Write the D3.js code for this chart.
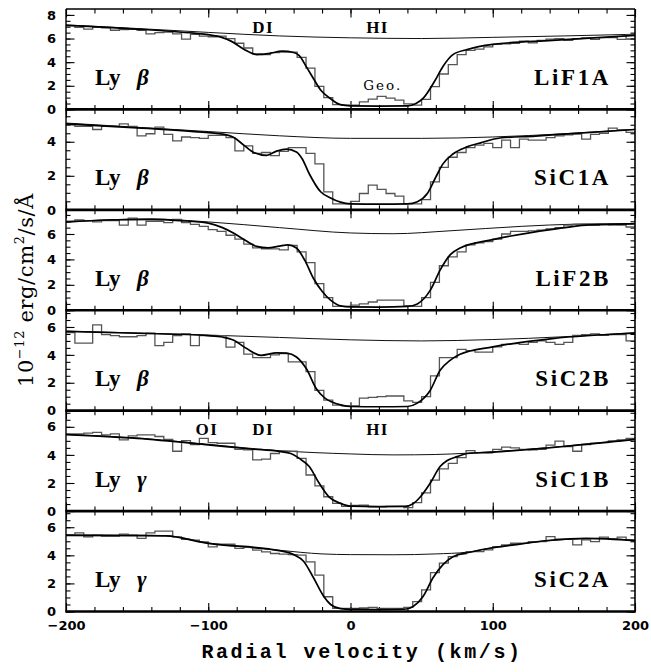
<!DOCTYPE html>
<html>
<head>
<meta charset="utf-8">
<script src="https://cdn.jsdelivr.net/npm/d3@7"></script>
<style>
  body { margin: 0; background: #fff; }
  svg { display: block; }
</style>
</head>
<body>
<svg width="651" height="672"></svg>
<script>
// six FUSE segments, top to bottom
const panelNames = ['LiF1A', 'SiC1A', 'LiF2B', 'SiC2B', 'SiC1B', 'SiC2A'];
const lineGreek = ['β', 'β', 'β', 'β', 'γ', 'γ'];
const yTops = [8.5, 5.9, 7.9, 7.2, 7.15, 7.15];
const xMajor = [-200, -100, 0, 100, 200];
const binStart = -200, binWidth = 6.25;

// observed flux per bin (64 bins of 6.25 km/s)
const hist1 = [7.1,6.95,6.8,6.95,6.9,6.7,6.75,6.8,6.7,6.4,6.5,6.55,6.4,5.95,6.35,6.2,6.15,6.2,6.0,5.6,
  5.2,4.7,4.65,4.8,4.85,4.85,4.4,3.5,1.95,1.0,0.4,0.36,0.36,0.64,0.87,1.1,0.95,0.78,0.47,0.36,
  0.85,1.93,3.0,3.8,4.64,5.0,5.1,5.3,5.5,5.56,5.6,5.78,5.64,5.84,5.95,6.0,5.85,6.0,6.05,5.93,
  6.07,6.07,5.93,6.3];
const hist2 = [5.0,4.9,4.9,4.72,4.9,4.9,5.05,4.9,4.34,4.47,4.86,4.43,4.05,4.28,4.24,4.2,4.38,4.38,4.24,3.47,
  3.76,3.32,3.37,3.18,3.43,3.66,3.66,3.32,2.7,1.06,0.35,0.35,0.5,0.96,1.45,1.2,0.96,0.8,0.35,0.35,
  0.6,1.64,2.5,3.09,3.37,3.66,3.8,3.9,3.66,4.1,3.66,4.15,4.1,4.1,4.24,4.34,4.4,4.45,4.15,4.43,
  4.5,4.8,4.7,4.55];
const hist3 = [7.0,7.1,7.05,6.95,7.05,7.05,6.7,7.25,6.7,7.0,7.0,6.9,7.15,6.9,6.75,6.6,6.35,6.2,5.9,5.6,
  5.2,4.9,4.83,4.83,4.75,5.1,4.6,3.75,2.1,1.0,0.3,0.3,0.4,0.5,0.65,0.8,0.8,0.8,0.35,0.3,
  1.0,2.2,3.5,4.2,4.6,5.15,5.3,5.4,5.6,6.0,6.2,6.2,6.25,6.3,6.4,6.5,6.7,6.75,6.75,6.7,
  6.75,6.72,6.7,6.55];
const hist4 = [5.6,4.85,4.85,6.15,5.45,5.38,5.3,5.3,5.38,5.55,4.67,4.9,5.38,5.5,4.67,5.38,5.38,5.38,4.55,4.9,
  4.05,3.8,3.8,4.0,4.1,3.5,3.5,2.8,1.46,0.75,0.4,0.35,0.35,0.9,0.95,1.0,1.05,1.05,0.7,0.6,
  1.0,2.5,3.8,3.8,4.4,4.3,4.2,4.2,4.57,4.75,4.8,4.75,4.9,5.0,4.9,4.75,4.9,5.4,5.45,5.5,
  5.4,5.45,5.45,5.0];
const hist5 = [5.5,5.5,5.55,5.6,5.43,5.5,5.07,5.36,5.43,5.43,5.31,5.1,4.26,5.02,4.74,5.17,4.88,4.83,4.83,4.4,
  4.36,3.64,3.7,4.1,4.26,4.26,3.76,2.57,1.79,1.02,0.55,0.33,0.4,0.43,0.3,0.3,0.33,0.33,0.24,0.6,
  1.3,2.2,3.0,3.4,3.8,4.3,4.14,4.14,4.4,4.55,4.5,4.4,4.36,4.4,4.7,4.98,4.6,4.26,4.74,4.83,
  4.88,5.0,5.07,5.17];
const hist6 = [5.45,5.6,5.32,5.44,5.37,5.37,5.51,5.44,5.2,5.6,5.72,5.72,5.32,5.13,5.08,4.96,4.6,4.79,4.79,4.49,
  4.56,4.37,4.25,4.13,4.09,4.05,4.01,3.54,2.59,1.05,0.22,0.22,0.22,0.25,0.29,0.22,0.22,0.22,0.3,0.7,
  1.54,2.77,3.44,3.91,4.1,4.27,4.27,4.39,4.62,4.74,4.86,4.86,4.98,4.98,5.33,5.15,5.15,4.74,5.1,4.98,
  5.29,5.15,5.29,5.1];

// model fit [velocity, flux]
const fit1 = [[-200,7.12],[-150,6.8],[-110,6.45],[-100,6.33],[-90,6.08],[-84,5.78],[-75,5.1],[-66,4.64],[-58,4.72],
  [-48,4.93],[-40,4.82],[-36,4.55],[-31,3.6],[-26,2.6],[-21,1.65],[-14,0.9],[-7,0.4],[0,0.3],[20,0.28],[40,0.3],
  [46,0.5],[51,0.93],[59,2.36],[65,3.64],[72,4.64],[82,5.07],[100,5.5],[142,5.84],[200,6.27]];
const fit2 = [[-200,5.05],[-150,4.82],[-110,4.6],[-90,4.45],[-82,4.25],[-75,3.8],[-68,3.37],[-59,3.2],[-52,3.45],
  [-45,3.57],[-38,3.4],[-34,3.0],[-29,2.12],[-21,1.06],[-14,0.7],[-7,0.45],[0,0.35],[20,0.33],[40,0.35],[47,0.48],
  [54,0.96],[60,1.93],[65,2.7],[72,3.28],[82,3.7],[92,3.95],[105,4.22],[130,4.33],[150,4.45],[200,4.72]];
const fit3 = [[-200,6.93],[-170,7.1],[-140,7.15],[-120,7.05],[-100,6.85],[-90,6.5],[-82,6.05],[-74,5.5],[-66,5.02],
  [-58,4.9],[-50,5.05],[-44,5.15],[-38,4.9],[-32,3.9],[-26,2.5],[-20,1.5],[-14,0.8],[-7,0.35],[0,0.27],[20,0.25],
  [40,0.3],[47,0.5],[56,1.56],[63,3.16],[70,4.36],[77,4.9],[100,5.56],[142,6.36],[166,6.7],[200,6.8]];
const fit4 = [[-200,5.68],[-150,5.55],[-100,5.38],[-90,5.28],[-82,5.05],[-73,4.45],[-63,3.97],[-52,4.14],[-45,4.12],
  [-38,3.85],[-31,3.0],[-24,1.57],[-18,0.9],[-13,0.62],[-7,0.42],[0,0.3],[20,0.28],[40,0.3],[47,0.54],[56,1.45],
  [63,2.9],[70,3.6],[77,4.04],[100,4.57],[142,5.17],[200,5.55]];
const fit5 = [[-200,5.45],[-150,5.18],[-100,4.72],[-70,4.42],[-50,4.25],[-42,4.1],[-36,3.75],[-29,3.17],[-22,1.98],
  [-15,1.0],[-7,0.55],[0,0.35],[20,0.32],[38,0.33],[44,0.52],[49,1.0],[56,1.98],[63,3.17],[68,3.6],[75,3.88],
  [82,4.1],[100,4.2],[150,4.6],[200,5.1]];
const fit6 = [[-200,5.42],[-150,5.4],[-130,5.38],[-100,4.85],[-50,4.33],[-40,4.05],[-33,3.58],[-26,2.4],[-19,1.1],
  [-14,0.5],[-7,0.2],[0,0.15],[20,0.14],[38,0.16],[44,0.36],[51,1.07],[58,2.4],[65,3.34],[72,3.9],[82,4.18],
  [96,4.47],[119,4.8],[142,5.09],[166,5.2],[200,5.04]];

// unabsorbed continuum [velocity, flux]
const cont1 = [[-200,7.15],[-150,6.85],[-100,6.52],[-50,6.22],[0,6.06],[50,6.0],[100,6.1],[150,6.22],[200,6.36]];
const cont2 = [[-200,5.1],[-150,4.85],[-100,4.6],[-50,4.35],[0,4.2],[50,4.2],[100,4.28],[150,4.47],[200,4.73]];
const cont3 = [[-200,6.95],[-170,7.12],[-140,7.18],[-100,6.95],[-50,6.5],[0,6.08],[30,6.02],[70,6.25],[120,6.6],[160,6.78],[200,6.82]];
const cont4 = [[-200,5.7],[-150,5.57],[-100,5.42],[-50,5.25],[0,5.08],[50,5.0],[100,5.1],[150,5.3],[200,5.6]];
const cont5 = [[-200,5.46],[-150,5.2],[-100,4.75],[-50,4.3],[0,4.07],[30,4.0],[60,4.03],[82,4.12],[100,4.22],[150,4.62],[200,5.1]];
const cont6 = [[-200,5.45],[-150,5.43],[-130,5.4],[-100,4.88],[-50,4.36],[-20,4.1],[0,4.05],[30,4.04],[60,4.1],[82,4.22],[100,4.55],[120,4.83],[150,5.12],[175,5.21],[200,5.06]];

const hists = [hist1, hist2, hist3, hist4, hist5, hist6];
const fits = [fit1, fit2, fit3, fit4, fit5, fit6];
const conts = [cont1, cont2, cont3, cont4, cont5, cont6];

// line identifications: [panel, text, velocity]
const ionLabels = [[0, 'DI', -69], [0, 'HI', 11], [4, 'OI', -109], [4, 'DI', -69], [4, 'HI', 11]];

const svg = d3.select('svg');
const W = +svg.attr('width'), H = +svg.attr('height');
const margin = { top: 9, left: 66, right: 16, bottom: 60.5 };
const innerW = W - margin.left - margin.right;
const panelH = (H - margin.top - margin.bottom) / 6;

const x = d3.scaleLinear().domain([-200, 200]).range([margin.left, margin.left + innerW]);
const xMinor = d3.range(-200, 201, 20);
const binEdges = hist1.map((d, i) => binStart + i * binWidth);

const tickFont = 'DejaVu Sans, sans-serif';
const noDomain = s => s.select('.domain').remove();

panelNames.forEach((name, i) => {
  const top = margin.top + i * panelH, bot = top + panelH;
  const y = d3.scaleLinear().domain([0, yTops[i]]).range([bot, top]);
  const g = svg.append('g');

  // x ticks on top and bottom edges, pointing inward
  [[d3.axisBottom, top], [d3.axisTop, bot]].forEach(([ax, yy]) => {
    g.append('g').attr('transform', `translate(0,${yy})`)
      .call(ax(x).tickValues(xMinor).tickSize(4.5).tickFormat('')).call(noDomain);
    g.append('g').attr('transform', `translate(0,${yy})`)
      .call(ax(x).tickValues(xMajor).tickSize(8.5).tickFormat('')).call(noDomain);
  });

  // y ticks left (with labels) and right
  const yMaj = d3.range(0, yTops[i] + 0.001, 2);
  const yMin = d3.range(0, yTops[i], 0.5);
  const left = g.append('g').attr('transform', `translate(${margin.left},0)`);
  left.append('g').call(d3.axisLeft(y).tickValues(yMin).tickSizeInner(-4.5).tickSizeOuter(0).tickFormat('')).call(noDomain);
  left.append('g').call(d3.axisLeft(y).tickValues(yMaj).tickSizeInner(-8.5).tickSizeOuter(0).tickPadding(10).tickFormat(d3.format('d')))
    .call(noDomain)
    .attr('font-family', tickFont).attr('font-size', 13).attr('font-weight', 'bold');
  const right = g.append('g').attr('transform', `translate(${margin.left + innerW},0)`);
  right.append('g').call(d3.axisRight(y).tickValues(yMin).tickSizeInner(-4.5).tickSizeOuter(0).tickFormat('')).call(noDomain);
  right.append('g').call(d3.axisRight(y).tickValues(yMaj).tickSizeInner(-8.5).tickSizeOuter(0).tickFormat('')).call(noDomain);

  g.selectAll('.tick line').attr('stroke', '#000').attr('stroke-width', 1.1);

  // continuum
  const smooth = d3.line().x(d => x(d[0])).y(d => y(d[1])).curve(d3.curveMonotoneX);
  g.append('path').attr('d', smooth(conts[i]))
    .attr('fill', 'none').attr('stroke', '#111').attr('stroke-width', 1);

  // data histogram
  const step = d3.line().x(d => x(d[0])).y(d => y(d[1])).curve(d3.curveStepAfter);
  const pts = hists[i].map((v, j) => [binEdges[j], v]);
  pts.push([200, hists[i][hists[i].length - 1]]);
  g.append('path').attr('d', step(pts))
    .attr('fill', 'none').attr('stroke', '#555').attr('stroke-width', 1.3);

  // fit
  g.append('path').attr('d', smooth(fits[i]))
    .attr('fill', 'none').attr('stroke', '#000').attr('stroke-width', 1.7);

  // labels
  g.append('text').attr('x', 95).attr('y', top + 76)
    .attr('font-family', 'Liberation Serif, serif').attr('font-weight', 'bold').attr('font-size', 23)
    .text('Ly');
  g.append('text').attr('x', 137).attr('y', top + 76)
    .attr('font-family', 'Liberation Serif, serif').attr('font-weight', 'bold').attr('font-style', 'italic')
    .attr('font-size', 23).text(lineGreek[i]);
  g.append('text').attr('x', 611).attr('y', top + 76).attr('text-anchor', 'end')
    .attr('font-family', 'Liberation Serif, serif').attr('font-weight', 'bold').attr('font-size', 23)
    .attr('letter-spacing', 2.6).text(name);

  ionLabels.filter(d => d[0] === i).forEach(d => {
    g.append('text').attr('x', x(d[2])).attr('y', top + 24)
      .attr('font-family', 'Liberation Serif, serif').attr('font-weight', 'bold').attr('font-size', 17)
      .attr('letter-spacing', 1.5).text(d[1]);
  });
  if (i === 0) {
    g.append('text').attr('x', x(9)).attr('y', top + 81)
      .attr('font-family', 'DejaVu Serif, serif').attr('font-size', 13.5)
      .attr('letter-spacing', 2).text('Geo.');
  }
});

// frame: thin sides/top, thick panel separators and bottom
const frame = svg.append('g').attr('stroke', '#000');
frame.append('line').attr('x1', margin.left).attr('x2', margin.left)
  .attr('y1', margin.top).attr('y2', margin.top + 6 * panelH).attr('stroke-width', 1.4);
frame.append('line').attr('x1', margin.left + innerW).attr('x2', margin.left + innerW)
  .attr('y1', margin.top).attr('y2', margin.top + 6 * panelH).attr('stroke-width', 1.6);
frame.append('line').attr('x1', margin.left).attr('x2', margin.left + innerW)
  .attr('y1', margin.top).attr('y2', margin.top).attr('stroke-width', 1.4);
d3.range(1, 7).forEach(k => {
  frame.append('line').attr('x1', margin.left - 0.7).attr('x2', margin.left + innerW + 0.8)
    .attr('y1', margin.top + k * panelH).attr('y2', margin.top + k * panelH).attr('stroke-width', 2.6);
});

// bottom velocity labels
const bottomY = margin.top + 6 * panelH;
svg.append('g').attr('transform', `translate(0,${bottomY})`)
  .call(d3.axisBottom(x).tickValues(xMajor).tickSize(0).tickPadding(9))
  .call(noDomain)
  .attr('font-family', tickFont).attr('font-size', 13).attr('font-weight', 'bold');

// axis titles
svg.append('text').attr('x', 362).attr('y', 658).attr('text-anchor', 'middle')
  .attr('font-family', 'Liberation Mono, monospace').attr('font-weight', 'bold').attr('font-size', 20)
  .attr('letter-spacing', 2.6).text('Radial velocity (km/s)');

const yt = svg.append('text').attr('transform', 'translate(33,290) rotate(-90)').attr('text-anchor', 'middle')
  .attr('font-family', 'DejaVu Serif, serif').attr('font-size', 21).attr('letter-spacing', 0.6);
yt.append('tspan').text('10');
yt.append('tspan').attr('font-size', 13).attr('dy', -9).text('−12');
yt.append('tspan').attr('dy', 9).text(' erg/cm');
yt.append('tspan').attr('font-size', 13).attr('dy', -9).text('2');
yt.append('tspan').attr('dy', 9).text('/s/Å');
</script>
</body>
</html>
